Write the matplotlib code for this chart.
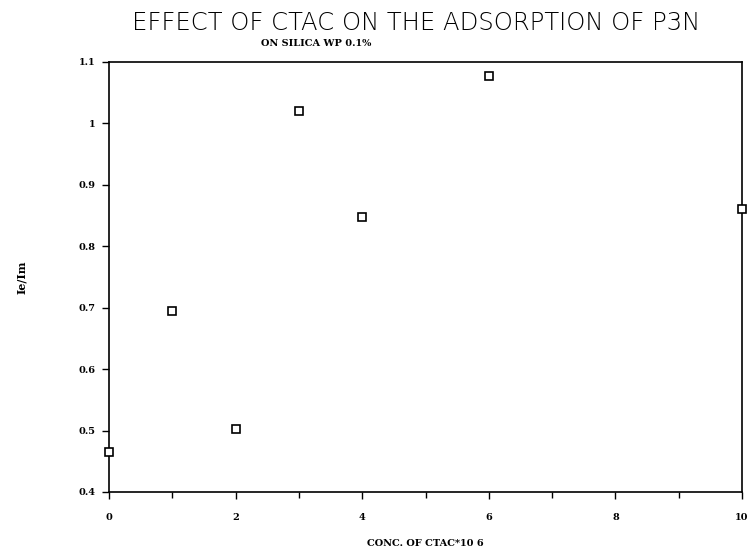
import matplotlib
matplotlib.use("Agg")
import matplotlib.pyplot as plt
from matplotlib.ticker import MultipleLocator

conc = [0, 1, 2, 3, 4, 6, 10]
ratio = [0.465, 0.695, 0.502, 1.02, 0.848, 1.078, 0.86]

x_ticks = [0, 2, 4, 6, 8, 10]
y_ticks = [0.4, 0.5, 0.6, 0.7, 0.8, 0.9, 1.0, 1.1]
y_tick_labels = ["0.4", "0.5", "0.6", "0.7", "0.8", "0.9", "1", "1.1"]

W, H = 752, 552
L, R, T, B = 109, 742, 62, 492
fig = plt.figure(figsize=(W / 100, H / 100), dpi=100)
ax = fig.add_axes([L / W, 1 - B / H, (R - L) / W, (B - T) / H])

ax.plot(conc, ratio, linestyle="none", marker="s", markersize=6,
        markerfacecolor="white", markeredgecolor="black", markeredgewidth=1.2,
        clip_on=False, zorder=5)

ax.set_xlim(0, 10)
ax.set_ylim(0.4, 1.1)
ax.set_xticks(x_ticks)
ax.xaxis.set_minor_locator(MultipleLocator(1))
ax.set_yticks(y_ticks)
ax.set_yticklabels(y_tick_labels)

tick_font = dict(family="DejaVu Serif", weight="bold", size=7)
for lab in ax.get_xticklabels() + ax.get_yticklabels():
    lab.set_fontfamily(tick_font["family"])
    lab.set_fontweight(tick_font["weight"])
    lab.set_fontsize(tick_font["size"])

ax.tick_params(axis="x", which="major", direction="out", length=5, width=1, pad=10)
ax.tick_params(axis="y", which="major", direction="out", length=5, width=1, pad=5)
ax.tick_params(axis="x", which="minor", direction="out", length=4, width=1)
for s in ax.spines.values():
    s.set_linewidth(1.2)

ax.set_xlabel("CONC. OF CTAC*10 6", fontdict=tick_font, labelpad=12)
ax.set_ylabel("Ie/Im", fontdict=dict(family="DejaVu Serif", weight="bold", size=8),
              labelpad=37)

fig.text(416 / W, 1 - 23 / H, "EFFECT OF CTAC ON THE ADSORPTION OF P3N",
         ha="center", va="center", fontsize=17.5, family="DejaVu Sans",
         fontweight="light")
fig.text(316 / W, 1 - 44 / H, "ON SILICA WP 0.1%",
         ha="center", va="center", fontsize=7, family="DejaVu Serif",
         fontweight="bold")

fig.savefig("out.png", dpi=100)
